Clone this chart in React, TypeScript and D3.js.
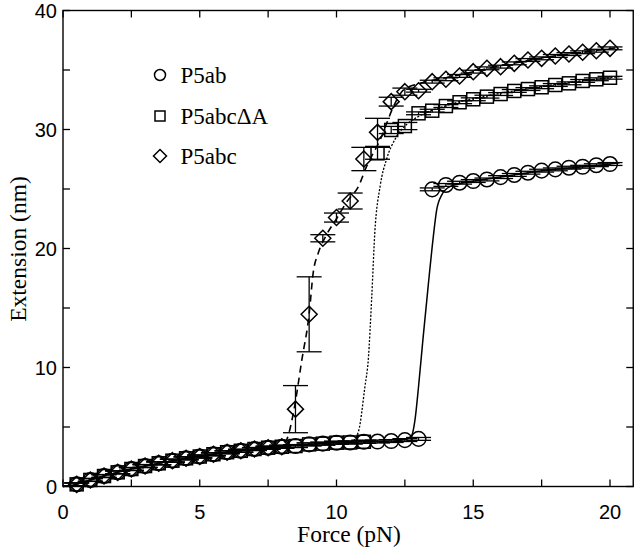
import React from 'react';
import * as d3 from 'd3';

// ---------- data ----------
// P5ab (circles)
const abForce = [0.5, 1, 1.5, 2, 2.5, 3, 3.5, 4, 4.5, 5, 5.5, 6, 6.5, 7, 7.5, 8, 8.5, 9, 9.5, 10, 10.5, 11, 11.5, 12, 12.5, 13,
  13.5, 14, 14.5, 15, 15.5, 16, 16.5, 17, 17.5, 18, 18.5, 19, 19.5, 20];
const abExt = [0.18, 0.55, 0.88, 1.19, 1.47, 1.72, 1.95, 2.17, 2.37, 2.52, 2.71, 2.88, 3.0, 3.15, 3.26, 3.34, 3.4, 3.54, 3.6, 3.68, 3.7, 3.76, 3.78, 3.82, 3.9, 4.0,
  24.97, 25.34, 25.53, 25.67, 25.8, 26.0, 26.18, 26.37, 26.54, 26.65, 26.79, 26.87, 27.0, 27.1];
const abErr = [0.12, 0.12, 0.12, 0.12, 0.12, 0.12, 0.12, 0.12, 0.12, 0.12, 0.12, 0.12, 0.12, 0.12, 0.12, 0.12, 0.12, 0.12, 0.12, 0.12, 0.12, 0.12, 0.12, 0.12, 0.12, 0.12,
  0.12, 0.12, 0.12, 0.12, 0.12, 0.12, 0.12, 0.12, 0.12, 0.12, 0.12, 0.12, 0.12, 0.12];

// P5abcΔA (squares)
const dAForce = [0.5, 1, 1.5, 2, 2.5, 3, 3.5, 4, 4.5, 5, 5.5, 6, 6.5, 7, 7.5, 8, 8.5, 9, 9.5, 10, 10.5, 11,
  11.5, 12, 12.5, 13, 13.5, 14, 14.5, 15, 15.5, 16, 16.5, 17, 17.5, 18, 18.5, 19, 19.5, 20];
const dAExt = [0.18, 0.55, 0.88, 1.19, 1.47, 1.72, 1.95, 2.17, 2.37, 2.52, 2.71, 2.88, 3.0, 3.15, 3.26, 3.34, 3.4, 3.54, 3.6, 3.68, 3.7, 3.76,
  28.0, 29.96, 30.29, 31.36, 31.58, 31.97, 32.29, 32.54, 32.76, 32.98, 33.24, 33.4, 33.55, 33.74, 33.88, 34.08, 34.22, 34.35];
const dAErr = [0.12, 0.12, 0.12, 0.12, 0.12, 0.12, 0.12, 0.12, 0.12, 0.12, 0.12, 0.12, 0.12, 0.12, 0.12, 0.12, 0.12, 0.12, 0.12, 0.12, 0.12, 0.12,
  0.5, 0.3, 0.3, 0.12, 0.12, 0.12, 0.12, 0.12, 0.12, 0.12, 0.12, 0.12, 0.12, 0.12, 0.12, 0.12, 0.12, 0.12];

// P5abc (diamonds)
const abcForce = [0.5, 1, 1.5, 2, 2.5, 3, 3.5, 4, 4.5, 5, 5.5, 6, 6.5, 7, 7.5, 8,
  8.5, 9, 9.5, 10, 10.5, 11, 11.5, 12, 12.5, 13, 13.5, 14, 14.5, 15, 15.5, 16, 16.5, 17, 17.5, 18, 18.5, 19, 19.5, 20];
const abcExt = [0.18, 0.55, 0.88, 1.19, 1.47, 1.72, 1.95, 2.17, 2.37, 2.52, 2.71, 2.88, 3.0, 3.15, 3.26, 3.34,
  6.5, 14.47, 20.86, 22.6, 23.99, 27.52, 29.76, 32.34, 33.18, 33.26, 34.02, 34.22, 34.5, 34.86, 35.14, 35.28, 35.56, 35.84, 35.98, 36.18, 36.34, 36.49, 36.62, 36.82];
const abcErr = [0.12, 0.12, 0.12, 0.12, 0.12, 0.12, 0.12, 0.12, 0.12, 0.12, 0.12, 0.12, 0.12, 0.12, 0.12, 0.12,
  1.98, 3.15, 0.3, 0.38, 0.67, 0.98, 1.18, 0.37, 0.3, 0.12, 0.12, 0.12, 0.12, 0.12, 0.12, 0.12, 0.12, 0.12, 0.12, 0.12, 0.12, 0.12, 0.12, 0.12];

// fitted curves
const abCurveF = [0, 0.5, 1, 1.5, 2, 3, 4, 5, 6, 7, 8, 9, 10, 11, 12, 12.5, 12.75, 12.87, 13.0, 13.17, 13.35, 13.54, 13.66, 13.85, 14.15, 15, 16, 17, 18, 19, 20, 20.35];
const abCurveE = [0, 0.2, 0.55, 0.88, 1.19, 1.72, 2.17, 2.52, 2.88, 3.15, 3.34, 3.54, 3.68, 3.76, 3.82, 3.92, 4.3, 5.6, 8.4, 12.6, 16.8, 21.0, 23.2, 24.5, 25.2, 25.65, 26.0, 26.37, 26.65, 26.87, 27.1, 27.2];

const dACurveF = [0, 0.5, 1, 1.5, 2, 3, 4, 5, 6, 7, 8, 9, 10, 10.56, 10.8, 11.04, 11.16, 11.29, 11.4, 11.6, 11.83, 12.17, 12.6, 13, 14, 15, 16, 17, 18, 19, 20, 20.35];
const dACurveE = [0, 0.2, 0.55, 0.88, 1.19, 1.72, 2.17, 2.52, 2.88, 3.15, 3.34, 3.54, 3.68, 3.77, 4.6, 8.4, 10.6, 16.0, 21.3, 25.3, 27.5, 29.3, 30.5, 31.1, 32.0, 32.6, 33.05, 33.45, 33.8, 34.1, 34.35, 34.45];

const abcCurveF = [0, 0.5, 1, 1.5, 2, 3, 4, 5, 6, 7, 8, 8.24, 8.45, 8.73, 9.0, 9.15, 9.33, 9.6, 10.0, 10.4, 10.8, 11.1, 11.59, 12.14, 12.44, 13.1, 14, 15, 16, 17, 18, 19, 20, 20.35];
const abcCurveE = [0, 0.2, 0.55, 0.88, 1.19, 1.72, 2.17, 2.52, 2.88, 3.15, 3.34, 4.33, 6.5, 10.6, 14.5, 18.0, 19.6, 21.0, 22.5, 24.0, 25.2, 26.9, 29.1, 32.2, 33.3, 33.9, 34.35, 34.85, 35.35, 35.8, 36.2, 36.5, 36.8, 36.9];

const xMajorTicks = [0, 5, 10, 15, 20];
const xMinorTicks = [2.5, 7.5, 12.5, 17.5];
const yMajorTicks = [0, 10, 20, 30, 40];
const yMinorTicks = [5, 15, 25, 35];
const legendLabels = ['P5ab', 'P5abcΔA', 'P5abc'];
const xTitle = 'Force (pN)';
const yTitle = 'Extension (nm)';

// ---------- layout ----------
const W = 640, H = 549;
const x = d3.scaleLinear().domain([0, 20]).range([63, 610]);
const y = d3.scaleLinear().domain([0, 40]).range([486.5, 10.5]);
const xMax = 20.85;
const left = x(0), right = x(xMax), top = y(40), bottom = y(0);
const TICK = 7;
const CAP = 12.5;
const SANS = '"Liberation Sans", Arial, Helvetica, sans-serif';
const SERIF = '"Liberation Serif", "Times New Roman", Times, serif';

type Shape = 'circle' | 'square' | 'diamond';

function Marker({ cx, cy, shape, s }: { cx: number; cy: number; shape: Shape; s: number }) {
  const common = { fill: 'none', stroke: '#000', strokeWidth: 1.5 };
  if (shape === 'circle') return <circle cx={cx} cy={cy} r={s} {...common} />;
  if (shape === 'square') return <rect x={cx - s} y={cy - s} width={2 * s} height={2 * s} {...common} />;
  return <path d={`M${cx},${cy - s}L${cx + s},${cy}L${cx},${cy + s}L${cx - s},${cy}Z`} {...common} />;
}

function Series({ f, e, err, shape, s }: { f: number[]; e: number[]; err: number[]; shape: Shape; s: number }) {
  return (
    <g>
      {f.map((fv, i) => {
        const cx = x(fv);
        const y1 = y(e[i] + err[i]);
        const y2 = y(e[i] - err[i]);
        return (
          <g key={i} stroke="#000" strokeWidth={1.3}>
            <line x1={cx} x2={cx} y1={y1} y2={y2} />
            <line x1={cx - CAP} x2={cx + CAP} y1={y1} y2={y1} />
            <line x1={cx - CAP} x2={cx + CAP} y1={y2} y2={y2} />
          </g>
        );
      })}
      {f.map((fv, i) => (
        <Marker key={'m' + i} cx={x(fv)} cy={y(e[i])} shape={shape} s={s} />
      ))}
    </g>
  );
}

function curvePath(fs: number[], es: number[]) {
  const line = d3.line<number>()
    .x((_, i) => x(fs[i]))
    .y((d) => y(d))
    .curve(d3.curveMonotoneX);
  return line(es) || '';
}

export default function App() {
  const legendShapes: Shape[] = ['circle', 'square', 'diamond'];
  const legendSizes = [5.5, 5, 6.5];
  const legendY = [75, 116, 156];
  return (
    <svg width={W} height={H} style={{ position: 'absolute', left: 0, top: 0, background: '#fff' }}>
      <rect x={0} y={0} width={W} height={H} fill="#fff" />

      {/* data */}
      <Series f={abForce} e={abExt} err={abErr} shape="circle" s={7.3} />
      <Series f={dAForce} e={dAExt} err={dAErr} shape="square" s={6.5} />
      <Series f={abcForce} e={abcExt} err={abcErr} shape="diamond" s={8} />

      {/* curves */}
      <path d={curvePath(abCurveF, abCurveE)} fill="none" stroke="#000" strokeWidth={1.5} />
      <path d={curvePath(dACurveF, dACurveE)} fill="none" stroke="#000" strokeWidth={1.3} strokeDasharray="2,1.6" />
      <path d={curvePath(abcCurveF, abcCurveE)} fill="none" stroke="#000" strokeWidth={1.6} strokeDasharray="7,5" />

      {/* frame */}
      <rect x={left} y={top} width={right - left} height={bottom - top} fill="none" stroke="#000" strokeWidth={1.4} />

      {/* ticks */}
      <g stroke="#000" strokeWidth={1.3}>
        {[...xMajorTicks, ...xMinorTicks].map((t) => (
          <g key={'xt' + t}>
            <line x1={x(t)} x2={x(t)} y1={bottom} y2={bottom - TICK} />
            <line x1={x(t)} x2={x(t)} y1={top} y2={top + TICK} />
          </g>
        ))}
        {[...yMajorTicks, ...yMinorTicks].map((t) => (
          <g key={'yt' + t}>
            <line x1={left} x2={left + TICK} y1={y(t)} y2={y(t)} />
            <line x1={right} x2={right - TICK} y1={y(t)} y2={y(t)} />
          </g>
        ))}
      </g>

      {/* tick labels */}
      <g fontFamily={SANS} fontSize={20} fill="#000">
        {xMajorTicks.map((t) => (
          <text key={'xl' + t} x={x(t)} y={bottom + 32} textAnchor="middle">{t}</text>
        ))}
        {yMajorTicks.map((t) => (
          <text key={'yl' + t} x={left - 6} y={y(t) + 7} textAnchor="end">{t}</text>
        ))}
      </g>

      {/* axis titles */}
      <text x={349} y={542} textAnchor="middle" fontFamily={SERIF} fontSize={23.5} fill="#000">{xTitle}</text>
      <text transform="translate(26,249) rotate(-90)" textAnchor="middle" fontFamily={SERIF} fontSize={23.5} fill="#000">{yTitle}</text>

      {/* legend */}
      {legendLabels.map((lab, i) => (
        <g key={lab}>
          <Marker cx={160} cy={legendY[i]} shape={legendShapes[i]} s={legendSizes[i]} />
          <text x={180.5} y={legendY[i] + 7.5} fontFamily={SERIF} fontSize={23} fill="#000">{lab}</text>
        </g>
      ))}
    </svg>
  );
}
